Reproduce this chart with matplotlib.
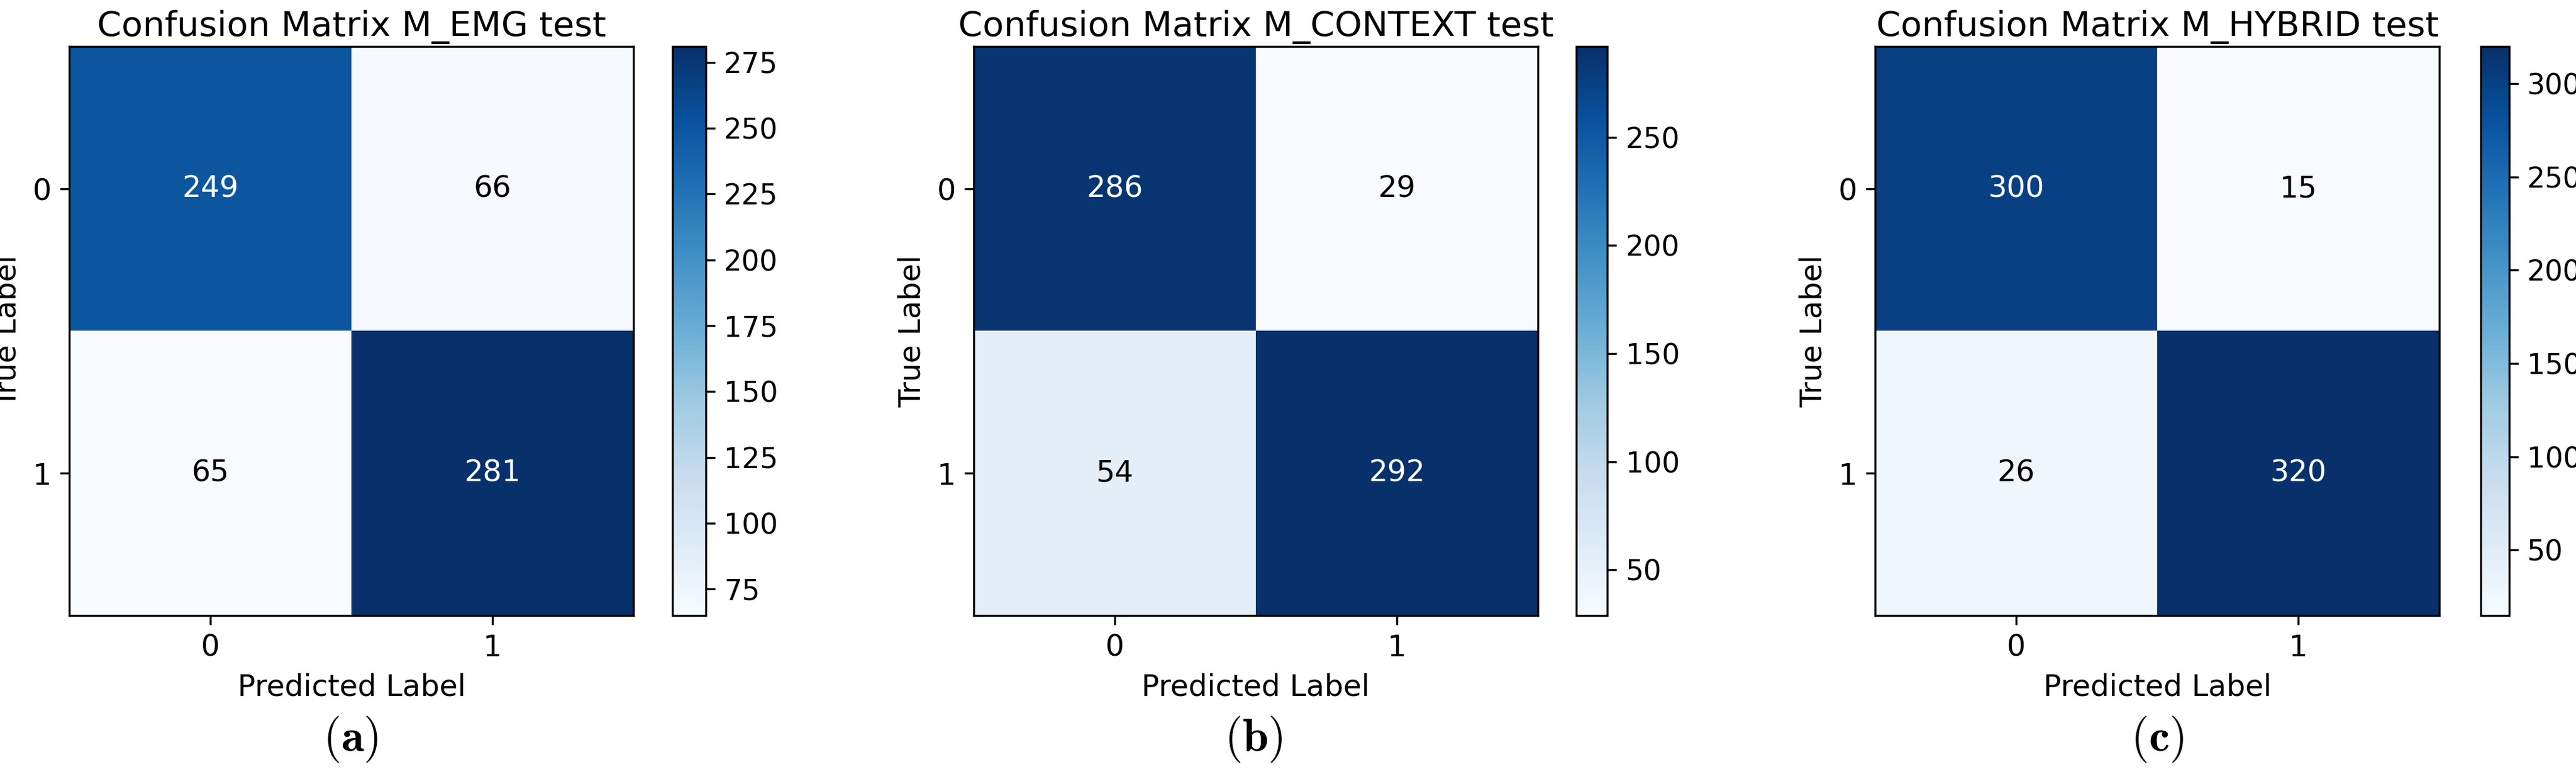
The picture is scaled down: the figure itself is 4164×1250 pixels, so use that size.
import matplotlib

matplotlib.use("Agg")
import matplotlib.pyplot as plt
import numpy as np

plt.rcParams["mathtext.fontset"] = "cm"

titles = ["Confusion Matrix M_EMG test", "Confusion Matrix M_CONTEXT test", "Confusion Matrix M_HYBRID test"]
cm_emg = [[249, 66], [65, 281]]
cm_context = [[286, 29], [54, 292]]
cm_hybrid = [[300, 15], [26, 320]]
matrices = [cm_emg, cm_context, cm_hybrid]
classes = ["0", "1"]
panel_tags = ["a", "b", "c"]

fig = plt.figure(figsize=(13.88, 4.1667), dpi=300)

bottom, height = 0.205, 0.735
ax_pos = [(0.027, bottom, 0.219, height), (0.378, bottom, 0.219, height), (0.728, bottom, 0.219, height)]
cb_pos = [(0.261, bottom, 0.013, height), (0.612, bottom, 0.012, height), (0.963, bottom, 0.011, height)]
tag_x = [0.136, 0.4865, 0.8375]

for i, m in enumerate(matrices):
    m = np.array(m)
    ax = fig.add_axes(ax_pos[i])
    cax = fig.add_axes(cb_pos[i])
    im = ax.imshow(m, cmap="Blues", aspect="auto")
    cb = fig.colorbar(im, cax=cax)
    cb.ax.tick_params(labelsize=11)
    thresh = m.max() / 2
    for r in range(2):
        for c in range(2):
            ax.text(c, r, str(m[r, c]), ha="center", va="center", fontsize=11.5,
                    color="white" if m[r, c] > thresh else "black")
    ax.set_xticks(range(2), classes, fontsize=11.5)
    ax.set_yticks(range(2), classes, fontsize=11.5)
    ax.set_xlabel("Predicted Label", fontsize=11.5)
    ax.set_ylabel("True Label", fontsize=11.5)
    ax.set_title(titles[i], fontsize=13.5, pad=4)
    fig.text(tag_x[i], 0.045, r"$(\mathbf{%s})$" % panel_tags[i], ha="center", va="center", fontsize=18)

fig.savefig("out.png")
